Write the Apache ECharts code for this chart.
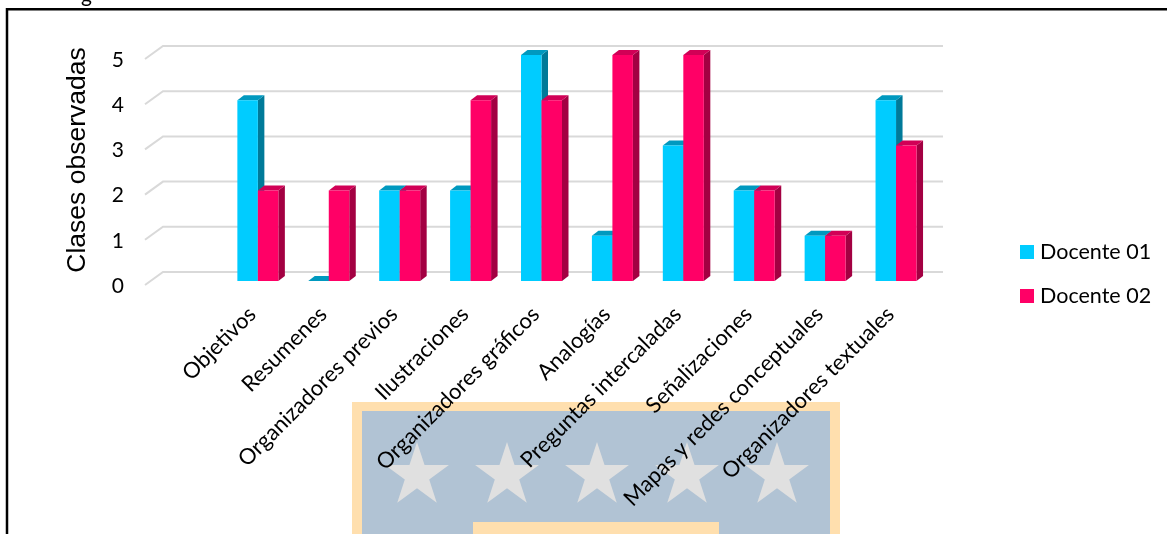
<!DOCTYPE html>
<html>
<head>
<meta charset="utf-8">
<style>html,body{margin:0;padding:0;background:#fff}#c{width:1167px;height:534px}</style>
<script src="https://cdn.jsdelivr.net/npm/echarts@6/dist/echarts.min.js"></script>
</head>
<body>
<div id="c"></div>
<script>
const categories = ['', 'Objetivos', 'Resumenes', 'Organizadores previos', 'Ilustraciones', 'Organizadores gráficos', 'Analogías', 'Preguntas intercaladas', 'Señalizaciones', 'Mapas y redes conceptuales', 'Organizadores textuales'];
const docente01 = [null, 4, 0, 2, 2, 5, 1, 3, 2, 1, 4];
const docente02 = [null, 2, 2, 2, 4, 4, 5, 5, 2, 1, 3];
const yTicks = [0, 1, 2, 3, 4, 5];

const BAR_W = 20.5, DX = 6.5, DY = 5;

function depthItem(offsetDir, capColor, sideColor) {
  return function (params, api) {
    const v = api.value(1);
    if (v === null || v === undefined || isNaN(v)) return;
    const top = api.coord([api.value(0), v]);
    const base = api.coord([api.value(0), 0]);
    const x0 = top[0] + (offsetDir < 0 ? -BAR_W : 0);
    const x1 = x0 + BAR_W;
    return {
      type: 'group',
      children: [
        { type: 'polygon', shape: { points: [[x1, top[1]], [x1 + DX, top[1] - DY], [x1 + DX, base[1] - DY], [x1, base[1]]] }, style: { fill: sideColor } },
        { type: 'polygon', shape: { points: [[x0, top[1]], [x0 + DX, top[1] - DY], [x1 + DX, top[1] - DY], [x1, top[1]]] }, style: { fill: capColor } }
      ]
    };
  };
}

function gridWall(params, api) {
  const p = api.coord([0, api.value(0)]);
  const left = params.coordSys.x;
  const right = left + params.coordSys.width;
  return {
    type: 'polyline',
    shape: { points: [[left, p[1] - 1], [left + 18, p[1] - 14], [right + 18, p[1] - 14]] },
    style: { fill: 'none', stroke: '#D9D9D9', lineWidth: 2 }
  };
}

const star = (cx) => {
  const R = 33.6, cy = 475.5, pts = [];
  for (let i = 0; i < 10; i++) {
    const r = i % 2 ? R * 0.382 : R, a = -Math.PI / 2 + i * Math.PI / 5;
    pts.push([cx + r * Math.cos(a), cy + r * Math.sin(a)]);
  }
  return { type: 'polygon', z: -5, silent: true, shape: { points: pts }, style: { fill: '#E0E0E0' } };
};

const chart = echarts.init(document.getElementById('c'), null, { renderer: 'canvas' });
chart.setOption({
  animation: false,
  backgroundColor: '#fff',
  graphic: [
    { type: 'rect', z: -8, silent: true, shape: { x: 352, y: 402, width: 488, height: 140 }, style: { fill: '#FFDFAE' } },
    { type: 'rect', z: -7, silent: true, shape: { x: 362, y: 411, width: 468, height: 130 }, style: { fill: '#B1C3D4' } },
    star(417), star(507), star(597), star(687), star(777),
    { type: 'rect', z: -5, silent: true, shape: { x: 473, y: 522, width: 246, height: 20 }, style: { fill: '#FFDFAE' } },
    { type: 'rect', z: 50, silent: true, shape: { x: 7, y: 9.3, width: 1175, height: 540 }, style: { fill: 'none', stroke: '#000', lineWidth: 2.5 } },
    { type: 'text', z: 50, silent: true, x: 81, y: -15, style: { text: 'g', fill: '#000', font: '21px Lato' } }
  ],
  legend: {
    orient: 'vertical', left: 1015, top: 234, itemWidth: 14, itemHeight: 14, itemGap: 18,
    icon: 'rect',
    selectedMode: false,
    data: ['Docente 01', 'Docente 02'],
    textStyle: { fontFamily: 'Lato', fontSize: 21.5, color: '#000', padding: [0, 0, 0, 1], lineHeight: 26 }
  },
  grid: [
    { left: 151.5, top: 55, width: 780, height: 226 },
    { left: 145, top: 60, width: 780, height: 226 }
  ],
  xAxis: [
    {
      type: 'category', gridIndex: 0, data: categories,
      axisLine: { show: false }, axisTick: { show: false },
      axisLabel: {
        interval: 0, rotate: 45, fontFamily: 'Lato', fontSize: 22, color: '#000', margin: 24,
        width: 300, overflow: 'none', padding: [0, 8, 0, 0]
      }
    },
    { type: 'category', gridIndex: 1, data: categories, show: false }
  ],
  yAxis: [
    { type: 'value', gridIndex: 0, min: 0, max: 5, interval: 1, show: false },
    {
      type: 'value', gridIndex: 1, min: 0, max: 5, interval: 1,
      axisLine: { show: false }, axisTick: { show: false }, splitLine: { show: false },
      axisLabel: { fontFamily: 'Lato', fontSize: 21, color: '#000', margin: 21 },
      name: 'Clases observadas', nameLocation: 'middle', nameGap: 54,
      nameTextStyle: { fontFamily: 'Liberation Sans', fontSize: 26.5, color: '#000', padding: [0, 0, 0, 26] }
    }
  ],
  series: [
    { type: 'custom', xAxisIndex: 1, yAxisIndex: 1, z: 1, silent: true, renderItem: gridWall, data: yTicks.map(v => [v]), encode: { y: 0 } },
    { type: 'custom', xAxisIndex: 0, yAxisIndex: 0, z: 2, silent: true, renderItem: depthItem(-1, '#0099BF', '#007A99'), data: docente01.map((v, i) => [i, v]) },
    { type: 'custom', xAxisIndex: 0, yAxisIndex: 0, z: 3, silent: true, renderItem: depthItem(1, '#D10056', '#A30042'), data: docente02.map((v, i) => [i, v]) },
    { name: 'Docente 01', type: 'bar', xAxisIndex: 0, yAxisIndex: 0, z: 4, barWidth: BAR_W, barGap: 0, data: docente01, itemStyle: { color: '#00CCFF' } },
    { name: 'Docente 02', type: 'bar', xAxisIndex: 0, yAxisIndex: 0, z: 4, barWidth: BAR_W, barGap: 0, data: docente02, itemStyle: { color: '#FF0066' } }
  ]
});
</script>
</body>
</html>
